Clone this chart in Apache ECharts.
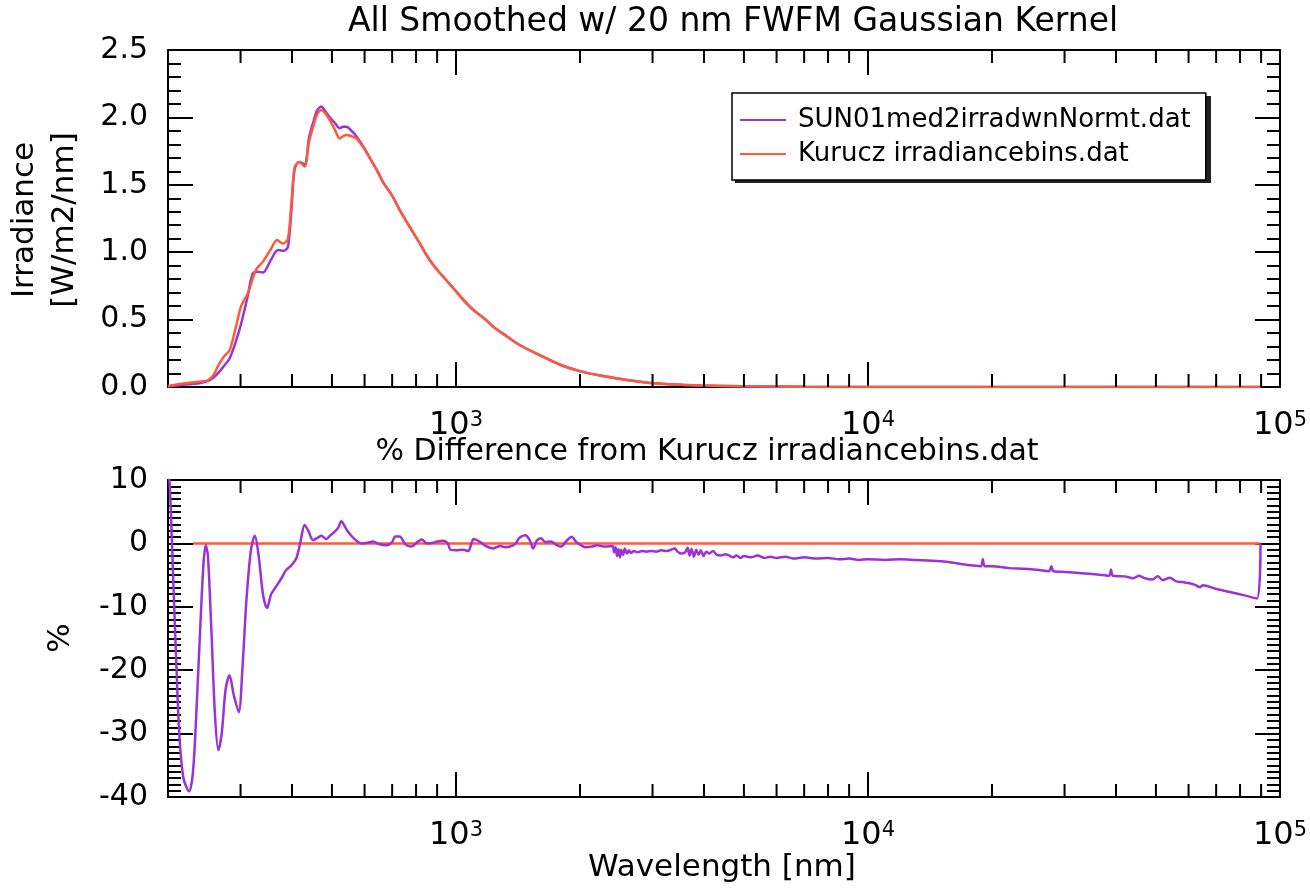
<!DOCTYPE html>
<html><head><meta charset="utf-8">
<script src="https://cdn.jsdelivr.net/npm/echarts@6/dist/echarts.min.js"></script>
<style>html,body{margin:0;padding:0;background:#fff}#c{width:1310px;height:889px}</style>
</head><body><div id="c"></div>
<script>
// ---------- data ----------
const seriesNames = ['SUN01med2irradwnNormt.dat', 'Kurucz irradiancebins.dat'];

const sunWl  = [200,212,225,240,250,258,266,274,282,291,301,311,321,330,340,355,370,382,391,399,406,417,429,440,450,460,471,482,494,508,522,532,542,558,573,598,623,645,665,700,731,775,817,840,864,900,949,1000,1050,1102,1170,1232,1330,1431,1600,1790,2000,2240,2600,2965,3500,3920,5000,7000,10000,20000,50000,89700];
const sunIrr = [0.004,0.012,0.02,0.03,0.045,0.07,0.11,0.16,0.21,0.32,0.47,0.65,0.84,0.855,0.85,0.94,1.016,1.01,1.04,1.33,1.62,1.67,1.65,1.85,1.96,2.05,2.08,2.045,2.0,1.96,1.92,1.93,1.93,1.90,1.86,1.775,1.68,1.60,1.52,1.42,1.31,1.18,1.066,1.0,0.94,0.87,0.79,0.71,0.635,0.571,0.51,0.447,0.375,0.31,0.235,0.165,0.118,0.085,0.052,0.030,0.017,0.012,0.005,0.0015,0.0004,0.00003,0.000001,0];

const kurWl  = [200,212,225,240,250,258,266,274,282,291,301,313,327,340,355,368,380,391,399,406,417,429,440,450,460,471,482,494,508,522,532,542,558,573,598,623,645,665,700,731,775,817,840,864,900,949,1000,1050,1102,1170,1232,1330,1431,1600,1790,2000,2240,2600,2965,3500,3920,5000,7000,10000,20000,50000,89700];
const kurIrr = [0.008,0.02,0.032,0.04,0.05,0.09,0.17,0.23,0.27,0.42,0.60,0.70,0.87,0.93,1.02,1.09,1.065,1.10,1.38,1.63,1.67,1.635,1.82,1.93,2.02,2.055,2.03,1.98,1.91,1.845,1.86,1.87,1.86,1.845,1.77,1.68,1.60,1.52,1.42,1.31,1.18,1.066,1.0,0.94,0.87,0.79,0.71,0.635,0.571,0.51,0.447,0.375,0.31,0.235,0.165,0.118,0.085,0.052,0.030,0.017,0.012,0.005,0.0015,0.0004,0.00003,0.000001,0];

const diffWl  = [200,203,206,209,213,218,225,230,235,240,244,247,250,255,260,265,270,276,282,289,297,303,310,318,325,332,340,348,356,366,377,387,398,410,420,429,438,450,462,471,484,496,508,518,527,536,547,565,589,610,629,650,678,700,712,730,755,780,805,826,850,881,900,932,955,970,1000,1040,1071,1090,1103,1140,1180,1232,1280,1320,1378,1400,1426,1475,1510,1539,1570,1606,1650,1700,1750,1800,1850,1909,1960,2000,2060,2139,2200,2300,2398,2420,2440,2460,2480,2500,2520,2545,2570,2600,2630,2660,2700,2760,2830,2900,2980,3060,3150,3250,3330,3400,3450,3520,3600,3650,3690,3730,3780,3830,3880,3930,3990,4050,4120,4200,4300,4400,4500,4600,4700,4800,4900,5000,5200,5400,5600,5800,6000,6300,6600,7000,7500,8000,8500,9000,9500,10000,11000,12000,13000,14000,15000,16000,17000,18000,18800,19000,19200,20000,22000,24000,26000,27500,27870,28200,30000,33000,36000,38500,38900,39300,42000,44000,45500,47000,49000,50500,52000,54000,56000,58000,62000,64000,65000,70000,76000,82000,87900,89700];
const diffPct = [14,6,-6,-17,-30,-37,-39.1,-36,-25,-12,-3,-0.3,-2,-14,-27,-32.6,-30,-23,-20.8,-24,-26.6,-20,-9,-1,1.2,-2,-8,-10.2,-8,-6.8,-5.5,-4.2,-3.5,-2.3,0.5,2.9,2.0,0.5,0.9,1.2,0.7,1.3,1.85,2.5,3.5,2.8,1.85,0.8,0,0.1,0.3,-0.1,-0.3,0.2,1.1,1.1,-0.2,-0.5,0.2,0.6,0.0,0.1,0.3,0.4,0.0,-1.0,-1.1,-1.0,-1.2,0.0,0.7,0.3,-0.4,-0.8,-0.4,-0.6,-0.3,0.1,0.9,1.3,0.5,-0.8,0.4,0.8,0.2,0.3,-0.2,-0.5,0.3,1.06,0.2,-0.2,-0.6,-0.5,-0.3,-0.5,-0.4,-1.4,-0.6,-2.0,-0.9,-2.2,-1.0,-1.8,-0.8,-1.6,-1.1,-1.5,-1.2,-1.4,-1.2,-1.3,-1.2,-1.3,-1.1,-1.2,-1.0,-0.8,-1.3,-1.6,-1.4,-0.7,-1.9,-0.9,-2.1,-1.0,-1.8,-1.1,-2.0,-1.3,-1.6,-1.2,-1.8,-1.9,-1.7,-1.9,-2.2,-1.9,-2.3,-2.0,-2.2,-1.9,-2.3,-2.1,-2.3,-2.1,-2.4,-2.2,-2.4,-2.3,-2.5,-2.4,-2.6,-2.5,-2.6,-2.5,-2.6,-2.7,-2.8,-3.0,-3.3,-3.5,-3.6,-2.5,-3.6,-3.6,-3.9,-4.0,-4.2,-4.4,-3.6,-4.4,-4.5,-4.7,-4.9,-5.1,-4.1,-5.1,-5.2,-5.5,-5.1,-5.5,-5.7,-5.2,-5.8,-5.4,-6.0,-6.1,-6.5,-6.9,-6.6,-7.2,-7.7,-8.2,-8.7,0];

const refWl  = [230, 89700];
const refPct = [0, 0];

// minor tick positions of the logarithmic wavelength axis
const minorWl = [300,400,500,600,700,800,900,2000,3000,4000,5000,6000,7000,8000,9000,20000,30000,40000,50000,60000,70000,80000,90000];

// ---------- chart ----------
const FONT = 'DejaVu Sans';
const PURPLE = '#9a32d8';
const ORANGE = '#ff5a38';
const zip = (a, b) => a.map((v, i) => [v, b[i]]);

function powLabel(v) {
  const e = Math.log10(v);
  if (Math.abs(e - Math.round(e)) > 1e-6) return '';
  return '{b|10}{s|' + Math.round(e) + '}';
}
function xAx(grid, pos, showLabel) {
  return {
    type: 'log', logBase: 10, gridIndex: grid, position: pos, min: 200, max: 100000,
    axisLine: { show: true, onZero: false, lineStyle: { color: '#000', width: 2 } },
    axisTick: { show: true, inside: true, length: 25, lineStyle: { color: '#000', width: 2 } },
    axisLabel: {
      show: showLabel, margin: 23, formatter: powLabel, color: '#000',
      rich: {
        b: { fontSize: 32, fontFamily: FONT, color: '#000' },
        s: { fontSize: 21, fontFamily: FONT, color: '#000', verticalAlign: 'top' }
      }
    },
    splitLine: { show: false }, minorTick: { show: false }, minorSplitLine: { show: false }
  };
}
function yAx(grid, pos, showLabel, min, max, interval, split, fmt) {
  return {
    type: 'value', gridIndex: grid, position: pos, min: min, max: max, interval: interval,
    axisLine: { show: true, onZero: false, lineStyle: { color: '#000', width: 2 } },
    axisTick: { show: true, inside: true, length: 25, lineStyle: { color: '#000', width: 2 } },
    minorTick: { show: true, splitNumber: split, length: 13, lineStyle: { color: '#000', width: 2 } },
    axisLabel: { show: showLabel, margin: 20, fontSize: 30, fontFamily: FONT, color: '#000', formatter: fmt },
    splitLine: { show: false }, minorSplitLine: { show: false }
  };
}
function minorTickRender(params, api) {
  const cs = params.coordSys;
  const x = api.coord([api.value(0), api.value(1)])[0];
  const yb = cs.y + cs.height, yt = cs.y;
  const st = { stroke: '#000', lineWidth: 2 };
  return { type: 'group', children: [
    { type: 'line', shape: { x1: x, y1: yb, x2: x, y2: yb - 13 }, style: st },
    { type: 'line', shape: { x1: x, y1: yt, x2: x, y2: yt + 13 }, style: st }
  ] };
}

const chart = echarts.init(document.getElementById('c'), null, { renderer: 'canvas' });
chart.setOption({
  animation: false,
  backgroundColor: '#fff',
  grid: [
    { left: 168, top: 50, width: 1112, height: 337, containLabel: false },
    { left: 168, top: 480, width: 1112, height: 317, containLabel: false }
  ],
  xAxis: [ xAx(0, 'bottom', true), xAx(0, 'top', false), xAx(1, 'bottom', true), xAx(1, 'top', false) ],
  yAxis: [
    yAx(0, 'left', true, 0, 2.5, 0.5, 5, v => v.toFixed(1)),
    yAx(0, 'right', false, 0, 2.5, 0.5, 5, v => v.toFixed(1)),
    yAx(1, 'left', true, -40, 10, 10, 10, v => String(v)),
    yAx(1, 'right', false, -40, 10, 10, 10, v => String(v))
  ],
  legend: {
    data: seriesNames, orient: 'vertical', left: 732, top: 93, z: 10,
    icon: 'rect', itemWidth: 46, itemHeight: 2, itemGap: 4,
    padding: [12, 15, 11, 8],
    backgroundColor: '#fff', borderColor: '#000', borderWidth: 1.5, borderRadius: 0,
    selectedMode: false,
    textStyle: { fontFamily: FONT, fontSize: 26, color: '#000', lineHeight: 30, padding: [0, 0, 0, 7] }
  },
  graphic: [
    // drop shadow of the legend box
    { type: 'rect', z: 5, shape: { x: 735, y: 96, width: 476, height: 87 }, style: { fill: '#222' } },
    { type: 'text', x: 733, y: 22, style: { text: 'All Smoothed w/ 20 nm FWFM Gaussian Kernel', fill: '#000', font: '33px "DejaVu Sans"', align: 'center', verticalAlign: 'middle' } },
    { type: 'text', x: 707, y: 452, style: { text: '% Difference from Kurucz irradiancebins.dat', fill: '#000', font: '30px "DejaVu Sans"', align: 'center', verticalAlign: 'middle' } },
    { type: 'text', x: 722, y: 868, style: { text: 'Wavelength [nm]', fill: '#000', font: '31px "DejaVu Sans"', align: 'center', verticalAlign: 'middle' } },
    { type: 'text', x: 45, y: 220, rotation: Math.PI / 2, style: { text: 'Irradiance\n[W/m2/nm]', fill: '#000', font: '31px "DejaVu Sans"', lineHeight: 40, align: 'center', verticalAlign: 'middle' } },
    { type: 'text', x: 61, y: 638, rotation: Math.PI / 2, style: { text: '%', fill: '#000', font: '31px "DejaVu Sans"', align: 'center', verticalAlign: 'middle' } }
  ],
  series: [
    { name: seriesNames[0], type: 'line', xAxisIndex: 0, yAxisIndex: 0, data: zip(sunWl, sunIrr), showSymbol: false, smooth: 0.3,
      lineStyle: { color: PURPLE, width: 2.5 }, itemStyle: { color: PURPLE }, z: 2 },
    { name: seriesNames[1], type: 'line', xAxisIndex: 0, yAxisIndex: 0, data: zip(kurWl, kurIrr), showSymbol: false, smooth: 0.3,
      lineStyle: { color: ORANGE, width: 2.5 }, itemStyle: { color: ORANGE }, z: 3 },
    { name: seriesNames[1], type: 'line', xAxisIndex: 2, yAxisIndex: 2, data: zip(refWl, refPct), showSymbol: false,
      lineStyle: { color: ORANGE, width: 2.5 }, itemStyle: { color: ORANGE }, z: 2 },
    { name: seriesNames[0], type: 'line', xAxisIndex: 2, yAxisIndex: 2, data: zip(diffWl, diffPct), showSymbol: false, smooth: 0.3,
      lineStyle: { color: PURPLE, width: 2.5 }, itemStyle: { color: PURPLE }, z: 3 },
    { type: 'custom', xAxisIndex: 0, yAxisIndex: 0, data: minorWl.map(v => [v, 0]), renderItem: minorTickRender, silent: true, clip: false, z: 5 },
    { type: 'custom', xAxisIndex: 2, yAxisIndex: 2, data: minorWl.map(v => [v, 0]), renderItem: minorTickRender, silent: true, clip: false, z: 5 }
  ]
});
</script>
</body></html>
